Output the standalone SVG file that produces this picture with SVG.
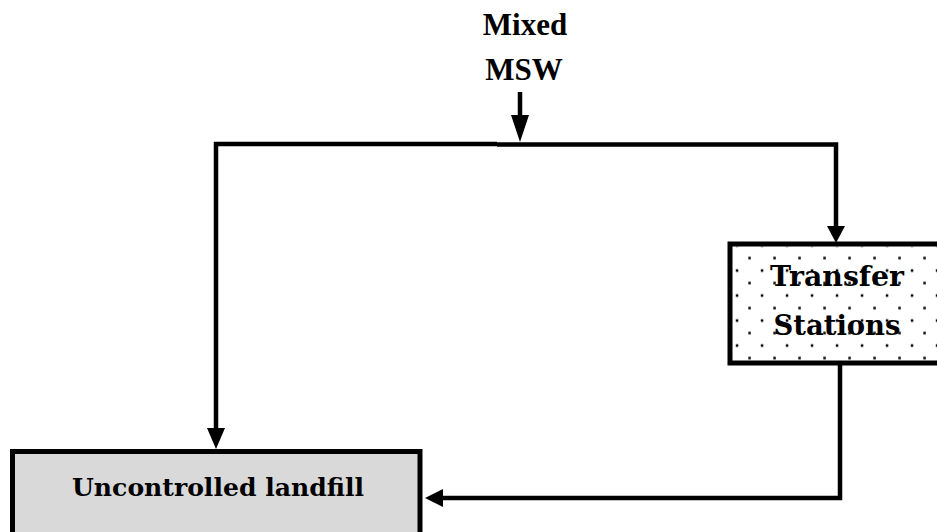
<svg xmlns="http://www.w3.org/2000/svg" width="937" height="532" viewBox="0 0 937 532">
  <defs>
    <pattern id="dots" patternUnits="userSpaceOnUse" x="735" y="243.5" width="25" height="25">
      <rect x="0.8" y="0.8" width="2.5" height="2.5" fill="#000"/>
      <rect x="13.3" y="13.3" width="2.5" height="2.5" fill="#000"/>
    </pattern>
  </defs>
  <style>
    .conn { fill: none; stroke: #000; stroke-width: 4.5; }
    .head { fill: #000; stroke: none; }
    .box { stroke: #000; stroke-width: 5; }
    .lbl { font-family: "DejaVu Serif", "Liberation Serif", serif; font-weight: bold; fill: #000; text-anchor: middle; }
    .src { font-family: "Liberation Serif", "Times New Roman", serif; font-weight: bold; fill: #000; text-anchor: middle; font-size: 31px; }
  </style>
  <rect width="937" height="532" fill="#fff"/>

  <g id="mixed-msw">
    <text class="src" x="525" y="35">Mixed</text>
    <text class="src" x="524" y="80">MSW</text>
  </g>

  <g id="transfer-stations">
    <rect class="box" x="730" y="244" width="215" height="119" fill="#fff"/>
    <rect x="732.5" y="246.5" width="210" height="114" fill="url(#dots)"/>
    <text class="lbl" x="837" y="285.5" font-size="28.5" textLength="134" lengthAdjust="spacingAndGlyphs">Transfer</text>
    <text class="lbl" x="837" y="334.5" font-size="28.5" textLength="127" lengthAdjust="spacingAndGlyphs">Stations</text>
  </g>

  <g id="uncontrolled-landfill">
    <rect class="box" x="12.5" y="451.5" width="407.5" height="100" fill="#d9d9d9"/>
    <text class="lbl" x="218" y="496" font-size="24.5" textLength="292" lengthAdjust="spacingAndGlyphs">Uncontrolled landfill</text>
  </g>

  <g id="connectors">
    <line class="conn" x1="520" y1="92" x2="520" y2="117"/>
    <polygon class="head" points="511,115 529,115 520,142"/>
    <polyline class="conn" points="497,144 216,144 216,430"/>
    <polygon class="head" points="207,428 225,428 216,449"/>
    <polyline class="conn" points="497,144.5 836,144.5 836,228"/>
    <polygon class="head" points="827,226 845,226 836,243"/>
    <polyline class="conn" points="840,363 840,498 441,498"/>
    <polygon class="head" points="443,489 443,507 425,498"/>
  </g>
</svg>
